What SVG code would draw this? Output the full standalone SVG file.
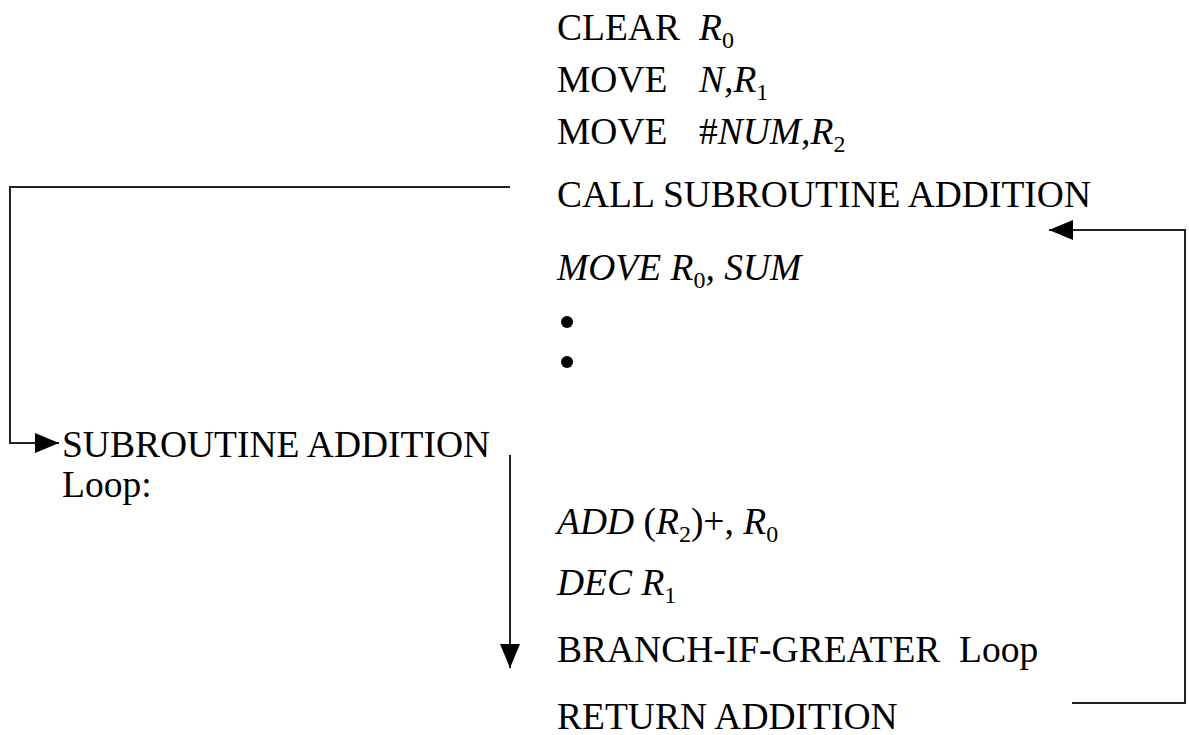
<svg xmlns="http://www.w3.org/2000/svg" width="1189" height="735" viewBox="0 0 1189 735">
<defs>
<style>
text{font-size:37.5px;fill:#000;font-family:'Liberation Serif','Times New Roman',serif}
.i{font-style:italic}
.s{font-size:24px}
.c{fill:none;stroke:#222;stroke-width:2}
</style>
<marker id="ah" markerUnits="userSpaceOnUse" markerWidth="26" markerHeight="22" refX="24" refY="10" orient="auto">
<path d="M0,0 L24,10 L0,20 Z" fill="#000"/>
</marker>
</defs>
<rect width="1189" height="735" fill="#fff"/>
<g id="connectors">
<path class="c" d="M510,187 H10 V443 H59" marker-end="url(#ah)"/>
<path class="c" d="M510,455 V668" marker-end="url(#ah)"/>
<path class="c" d="M1072,703 H1185 V230 H1049" marker-end="url(#ah)"/>
</g>
<g id="main">
<g id="clear"><text x="557" y="40">CLEAR<tspan x="699" class="i">R</tspan><tspan class="s" dy="8">0</tspan></text></g>
<g id="move-n"><text x="557" y="92">MOVE<tspan x="699" class="i">N,R</tspan><tspan class="s" dy="8">1</tspan></text></g>
<g id="move-num"><text x="557" y="144">MOVE<tspan x="699">#</tspan><tspan class="i">NUM,R</tspan><tspan class="s" dy="8">2</tspan></text></g>
<g id="call"><text x="557" y="207">CALL SUBROUTINE ADDITION</text></g>
<g id="move-sum"><text x="557" y="280" class="i">MOVE R<tspan class="s" dy="8" font-style="normal">0</tspan><tspan dy="-8">, SUM</tspan></text></g>
<g id="dots"><circle cx="567" cy="322" r="6"/><circle cx="567" cy="362" r="6"/></g>
<g id="sub"><text x="62" y="457">SUBROUTINE ADDITION</text><text x="62" y="497">Loop:</text></g>
<g id="add"><text x="557" y="534"><tspan class="i">ADD </tspan>(<tspan class="i">R</tspan><tspan class="s" dy="8">2</tspan><tspan dy="-8">)+, </tspan><tspan class="i">R</tspan><tspan class="s" dy="8">0</tspan></text></g>
<g id="dec"><text x="557" y="595" class="i">DEC R<tspan class="s" dy="8" font-style="normal">1</tspan></text></g>
<g id="branch"><text x="557" y="662" xml:space="preserve">BRANCH-IF-GREATER  Loop</text></g>
<g id="return"><text x="557" y="729">RETURN ADDITION</text></g>
</g>
</svg>
